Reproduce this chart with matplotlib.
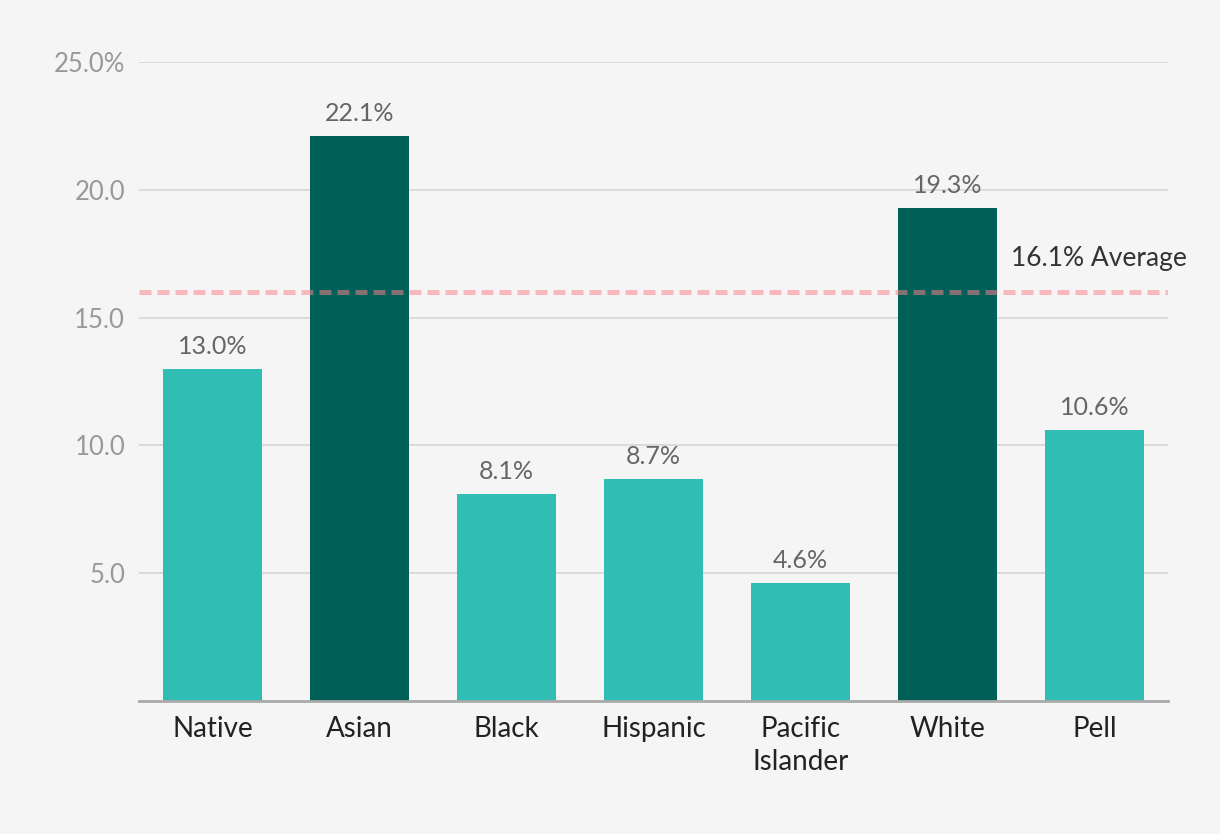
import matplotlib
matplotlib.use("Agg")
import matplotlib.pyplot as plt

categories = ["Native", "Asian", "Black", "Hispanic", "Pacific\nIslander", "White", "Pell"]
values = [13.0, 22.1, 8.1, 8.7, 4.6, 19.3, 10.6]
highlight = [False, True, False, False, False, True, False]
average_value = 16.0
average_label = "16.1% Average"
yticks = [5, 10, 15, 20, 25]
ytick_labels = ["5.0", "10.0", "15.0", "20.0", "25.0%"]

light = "#2fbdb4"
dark = "#005f56"
bg = "#f5f5f5"

plt.rcParams['font.family'] = ['Lato', 'DejaVu Sans']

fig = plt.figure(figsize=(12.2, 8.34), dpi=100, facecolor=bg)
ax = fig.add_axes([139/1220, 1-701/834, (1168-139)/1220, (701-62)/834])
ax.set_facecolor(bg)

x = list(range(len(categories)))
colors = [dark if h else light for h in highlight]
ax.bar(x, values, width=0.675, color=colors, zorder=2)

for xi, v in zip(x, values):
    ax.annotate(f"{v:.1f}%", (xi, v), xytext=(0, 8), textcoords="offset points",
                ha="center", va="bottom", fontsize=18, color="#666666")

ax.axhline(average_value, color="#fc8088", alpha=0.52, lw=3.6, dashes=(2.4, 1.2), zorder=3)
ax.text(6.03, average_value + 0.82, average_label, ha="center", va="bottom",
        fontsize=19, color="#333333", transform=ax.transData, clip_on=False)

ax.set_xlim(-0.5, 6.5)
ax.set_ylim(0, 25)
ax.set_yticks(yticks)
ax.set_yticklabels(ytick_labels)
ax.set_xticks(x)
ax.set_xticklabels(categories, fontsize=20, color="#222222", linespacing=1.3)
ax.tick_params(axis='y', length=0, pad=10, labelsize=18.5, labelcolor="#999999")
ax.tick_params(axis='x', length=0, pad=11)
ax.grid(axis='y', color="#d9d9d9", lw=1.3, zorder=0)
for s in ["top", "right", "left"]:
    ax.spines[s].set_visible(False)
ax.spines["bottom"].set_color("#aaaaaa")
ax.spines["bottom"].set_linewidth(2)
ax.spines["bottom"].set_zorder(4)

fig.savefig("out.png", dpi=100, facecolor=bg)
